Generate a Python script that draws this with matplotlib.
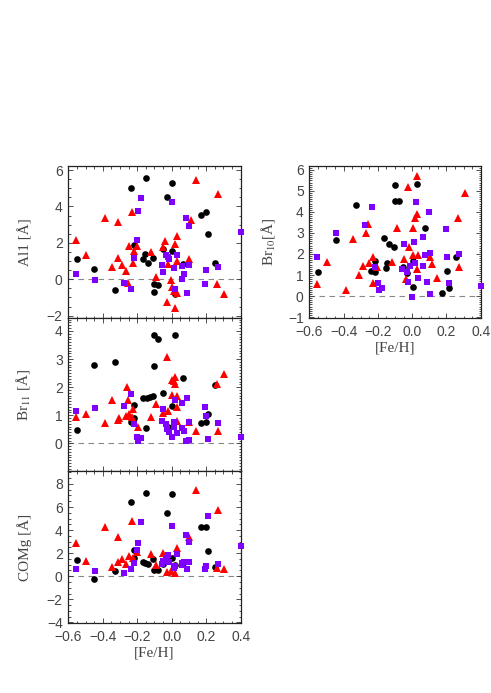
import matplotlib
matplotlib.use("Agg")
import matplotlib.pyplot as plt
from matplotlib.ticker import MultipleLocator
import numpy as np

# ---------------- data ----------------
# Panel "Al1"
al_blk_x = [-0.548, -0.449, -0.327, -0.238, -0.151, -0.219, -0.169, -0.157, -0.140, -0.109, -0.101, -0.078,
            -0.101, -0.029, 0.002, -0.051, 0.002, 0.017, 0.067, 0.170, 0.201, 0.212, 0.249]
al_blk_y = [1.13, 0.55, -0.60, 5.00, 5.58, 1.91, 1.13, 1.40, 0.91, 1.16, -0.24, -0.33,
            -0.69, 4.51, 5.27, 1.64, 1.55, -0.80, 0.85, 3.51, 3.71, 2.47, 0.87]
al_red_x = [-0.557, -0.497, -0.387, -0.349, -0.310, -0.310, -0.289, -0.267, -0.256, -0.248, -0.227, -0.229,
            -0.217, -0.202, -0.120, -0.091, -0.041, -0.049, -0.029, -0.020, -0.002, 0.000, 0.011, 0.021,
            0.029, 0.031, 0.033, 0.021, 0.100, 0.112, 0.141, 0.261, 0.270, 0.301]
al_red_y = [2.15, 1.36, 3.36, 0.69, 3.16, 1.18, 0.78, 0.44, -0.18, 1.85, 0.91, 3.69,
            1.55, 1.82, 1.49, 0.15, 2.09, 1.76, -1.27, 0.82, -0.05, -0.40, -0.64, 1.96,
            2.40, 1.00, -0.76, -1.56, 1.13, 3.24, 5.45, -0.24, 4.69, -0.82]
al_pur_x = [-0.557, -0.447, -0.277, -0.238, -0.217, -0.200, -0.198, -0.178, -0.056, -0.049, -0.035, -0.024,
            -0.014, 0.002, 0.011, 0.021, 0.033, 0.058, 0.062, 0.071, 0.083, 0.091, 0.102, 0.102,
            0.191, 0.201, 0.270, 0.400]
al_pur_y = [0.27, -0.05, -0.18, -0.56, 1.18, 2.15, 3.75, 4.49, 0.78, 0.40, 1.36, 1.24,
            1.13, 4.22, 0.60, -0.55, 1.36, 0.73, 0.04, 0.31, 3.36, -0.73, 0.76, 2.91,
            -0.27, 0.51, 0.69, 2.58]

# Panel "Br11"
b11_blk_x = [-0.548, -0.449, -0.327, -0.236, -0.217, -0.217, -0.151, -0.169, -0.145, -0.125, -0.107, -0.101,
             -0.078, -0.101, -0.051, 0.002, 0.017, 0.067, 0.170, 0.201, 0.212, 0.249, -0.020]
b11_blk_y = [0.49, 2.78, 2.90, 0.76, 1.38, 0.91, 0.56, 1.63, 1.63, 1.65, 1.68, 3.85,
             3.70, 2.76, 1.79, 1.33, 3.85, 2.31, 0.71, 0.77, 1.04, 2.07, 0.59]
b11_red_x = [-0.557, -0.497, -0.387, -0.349, -0.310, -0.306, -0.267, -0.260, -0.256, -0.248, -0.227, -0.229,
             -0.198, -0.120, -0.091, -0.049, -0.029, -0.020, 0.000, 0.000, 0.011, 0.021, 0.021, 0.029,
             0.031, 0.033, 0.100, 0.141, 0.261, 0.270, 0.301]
b11_red_y = [0.95, 1.04, 0.73, 1.56, 0.83, 0.92, 0.97, 1.99, 1.54, 1.03, 1.21, 0.95,
             0.57, 0.95, 1.40, 1.09, 3.08, 1.16, 2.25, 1.72, 2.22, 2.37, 2.13, 1.68,
             1.30, 0.80, 0.77, 0.44, 2.13, 0.45, 2.46]
b11_pur_x = [-0.557, -0.447, -0.277, -0.238, -0.217, -0.200, -0.198, -0.178, -0.049, -0.056, -0.035, -0.029,
             -0.014, 0.002, 0.011, 0.013, 0.021, 0.033, 0.058, 0.062, 0.071, 0.083, 0.091, 0.102,
             0.102, 0.191, 0.201, 0.212, 0.270, 0.400]
b11_pur_y = [1.16, 1.27, 1.34, 1.74, 0.69, 0.24, 0.09, 0.18, 1.22, 0.79, 0.69, 0.50,
             0.41, 0.24, 0.75, 0.57, 1.56, 0.36, 0.56, 1.44, 0.45, 0.09, 1.60, 0.75,
             0.12, 1.30, 0.98, 0.15, 0.71, 0.24]

# Panel "COMg"
co_blk_x = [-0.548, -0.449, -0.327, -0.238, -0.151, -0.219, -0.217, -0.169, -0.157, -0.140, -0.109, -0.101,
            -0.078, -0.029, 0.002, -0.051, 0.002, 0.017, 0.067, 0.170, 0.201, 0.212, 0.249]
co_blk_y = [1.42, -0.20, 0.49, 6.47, 7.20, 2.28, 1.62, 1.24, 1.18, 1.07, 1.47, 0.52,
            0.52, 5.46, 7.17, 1.04, 1.56, 0.98, 1.13, 4.31, 4.28, 2.20, 0.78]
co_red_x = [-0.557, -0.497, -0.387, -0.349, -0.310, -0.310, -0.289, -0.267, -0.248, -0.229, -0.227, -0.202,
            -0.120, -0.091, -0.049, -0.029, -0.002, 0.021, 0.029, 0.100, 0.141, 0.261, 0.270, 0.301]
co_red_y = [2.86, 1.30, 4.28, 0.84, 3.44, 1.27, 1.47, 1.04, 1.79, 4.80, 1.62, 2.08,
            1.91, 0.98, 2.05, 0.40, 0.46, 0.26, 2.49, 3.44, 7.49, 0.69, 5.75, 0.64]
co_pur_x = [-0.557, -0.447, -0.277, -0.238, -0.217, -0.200, -0.198, -0.178, -0.056, -0.049, -0.035, -0.024,
            -0.014, 0.002, 0.011, 0.021, 0.033, 0.058, 0.062, 0.071, 0.083, 0.091, 0.102, 0.102,
            0.191, 0.201, 0.212, 0.270, 0.400]
co_pur_y = [0.64, 0.49, 0.32, 0.64, 1.18, 2.28, 2.92, 4.68, 1.07, 1.33, 1.62, 1.85,
            1.27, 4.36, 0.69, 0.92, 1.91, 0.98, 1.13, 1.27, 3.58, 0.64, 3.01, 1.21,
            0.64, 0.92, 5.26, 1.04, 2.63]

# Panel "Br10"
b10_blk_x = [-0.547, -0.446, -0.328, -0.240, -0.219, -0.219, -0.164, -0.154, -0.147, -0.137, -0.106, -0.098,
             -0.098, -0.075, -0.028, 0.026, 0.003, 0.003, 0.075, 0.174, 0.205, 0.217, 0.254, -0.051]
b10_blk_y = [1.13, 2.67, 4.32, 1.21, 1.16, 1.67, 2.75, 1.32, 1.56, 2.46, 2.32, 5.30,
             4.54, 4.54, 1.11, 5.35, 0.41, 1.67, 3.25, 0.16, 1.21, 0.40, 1.87, 1.37]
b10_red_x = [-0.557, -0.495, -0.386, -0.347, -0.308, -0.289, -0.267, -0.260, -0.252, -0.226, -0.226, -0.205,
             -0.116, -0.086, -0.047, -0.038, -0.026, -0.016, 0.003, 0.003, 0.017, 0.026, 0.026, 0.030,
             0.032, 0.104, 0.114, 0.143, 0.272, 0.266, 0.309]
b10_red_y = [0.56, 1.63, 0.29, 2.71, 1.00, 1.43, 3.02, 3.43, 1.59, 0.63, 1.87, 1.37,
             1.60, 3.22, 1.75, 0.79, 5.21, 2.35, 3.22, 1.95, 3.70, 5.71, 1.27, 3.90,
             1.95, 1.87, 1.52, 0.84, 1.37, 3.73, 4.92]
b10_pur_x = [-0.557, -0.446, -0.275, -0.236, -0.217, -0.197, -0.193, -0.176, -0.047, -0.057, -0.032, -0.012,
             0.001, 0.013, 0.017, 0.023, -0.024, 0.032, 0.063, 0.063, 0.075, 0.087, 0.097, 0.104,
             0.106, 0.196, 0.205, 0.215, 0.276, 0.400]
b10_pur_y = [1.87, 3.02, 3.38, 4.25, 1.37, 0.63, 0.29, 0.37, 2.46, 1.29, 1.16, 1.44,
             -0.03, 2.59, 1.59, 4.46, 0.68, 0.84, 2.79, 1.43, 1.94, 0.68, 3.98, 2.06,
             0.10, 3.19, 1.87, 0.63, 2.00, 0.48]

# ---------------- style ----------------
plt.rcParams['mathtext.fontset'] = 'stix'
TXT = '#444444'
TICKFONT = 'Liberation Sans'
LABFONT = 'Liberation Serif'
BLK, RED, PUR = 'black', '#ff0000', '#8000ff'
MS = 4.8

fig = plt.figure(figsize=(4.91, 6.93), dpi=100)
W, H = 491.0, 693.0


def make_ax(x0, x1, y0, y1):
    return fig.add_axes([x0 / W, 1 - y1 / H, (x1 - x0) / W, (y1 - y0) / H])


def style(ax, ylim, ymaj, ymin, ylabel, xlabels, labx):
    ax.set_xlim(-0.6, 0.4)
    ax.set_ylim(*ylim)
    ax.xaxis.set_major_locator(MultipleLocator(0.2))
    ax.xaxis.set_minor_locator(MultipleLocator(0.05))
    ax.yaxis.set_major_locator(MultipleLocator(ymaj))
    ax.yaxis.set_minor_locator(MultipleLocator(ymin))
    ax.tick_params(which='both', direction='in', top=True, right=True, colors='#333333',
                   labelcolor=TXT, labelsize=10, width=0.6)
    ax.tick_params(which='major', length=3.8)
    ax.tick_params(which='minor', length=1.8)
    ax.tick_params(axis='y', pad=4)
    ax.tick_params(axis='x', pad=5)
    for lab in ax.get_xticklabels() + ax.get_yticklabels():
        lab.set_family(TICKFONT)
    if not xlabels:
        ax.tick_params(axis='x', labelbottom=False)
    else:
        ax.set_xlabel('[Fe/H]', family=LABFONT, fontsize=11, color=TXT, labelpad=2)
    ax.set_ylabel(ylabel, family=LABFONT, fontsize=11, color=TXT)
    ax.yaxis.set_label_coords(labx, 0.5)
    for s in ax.spines.values():
        s.set_linewidth(0.9)
        s.set_color('#222222')
    ax.axhline(0, color='#888888', lw=0.8, ls=(0, (5, 4)), zorder=1)


def scatter3(ax, bx, by, rx, ry, px, py):
    ax.plot(bx, by, 'o', color=BLK, ms=MS, mew=0, clip_on=False, zorder=3)
    ax.plot(rx, ry, '^', color=RED, ms=MS + 0.4, mew=0, clip_on=False, zorder=4)
    ax.plot(px, py, 's', color=PUR, ms=MS - 0.2, mew=0, clip_on=False, zorder=5)


ax1 = make_ax(68.3, 240.7, 165.7, 317.7)
ax2 = make_ax(68.3, 240.7, 317.7, 470.7)
ax3 = make_ax(68.3, 240.7, 471.0, 623.0)
ax4 = make_ax(309.3, 480.7, 165.7, 317.7)

scatter3(ax1, al_blk_x, al_blk_y, al_red_x, al_red_y, al_pur_x, al_pur_y)
scatter3(ax2, b11_blk_x, b11_blk_y, b11_red_x, b11_red_y, b11_pur_x, b11_pur_y)
scatter3(ax3, co_blk_x, co_blk_y, co_red_x, co_red_y, co_pur_x, co_pur_y)
scatter3(ax4, b10_blk_x, b10_blk_y, b10_red_x, b10_red_y, b10_pur_x, b10_pur_y)

style(ax1, (-2.11, 6.24), 2, 0.5, 'Al1 [Å]', False, -0.21)
style(ax2, (-0.97, 4.47), 1, 0.1, r'Br$_{11}$ [Å]', False, -0.21)
style(ax3, (-4.05, 9.12), 2, 0.5, 'COMg [Å]', True, -0.21)
style(ax4, (-1.03, 6.20), 1, 0.1, r'Br$_{10}$[Å]', True, -0.19)

fig.savefig('out.png', dpi=100)
